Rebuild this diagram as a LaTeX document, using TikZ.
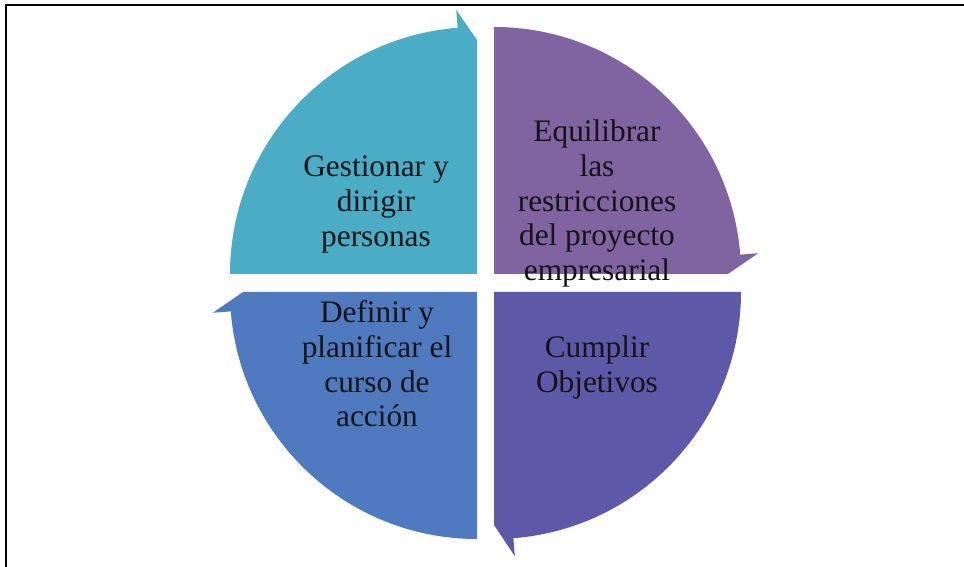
\documentclass[tikz,border=0pt]{standalone}
\usepackage{fontspec}
\setmainfont{Liberation Serif}
\usetikzlibrary{calc}
\definecolor{cteal}{HTML}{4BACC6}
\definecolor{cpurple}{HTML}{8064A2}
\definecolor{cdark}{HTML}{5E58A8}
\definecolor{cblue}{HTML}{4F7ABF}
\definecolor{ctext}{HTML}{141414}
\tikzset{
  seg/.style={draw=none},
  lbl/.style={inner sep=0pt, anchor=base, text=ctext, font=\fontsize{23.5}{26}\selectfont},
  frame/.style={draw=black, line width=1.9pt}
}
\newcommand{\lines}[1]{\begin{tabular}[t]{@{}c@{}}#1\end{tabular}}
\begin{document}
\begin{tikzpicture}[x=0.75pt,y=0.75pt]
\useasboundingbox (0,0) rectangle (964,567);
\coordinate (c1) at (477,293);
\coordinate (c2) at (494,293);
\coordinate (c3) at (494,275);
\coordinate (c4) at (477,275);
% frame
\coordinate (f0) at (6,0);
\coordinate (f1) at (6,562);
\coordinate (f2) at (964,562);
\draw[frame] (f0) -- (f1) -- (f2);
% segments
\fill[cteal] (c1) -- ($(c1)+(180:247)$) arc[start angle=180, end angle=94.5, radius=247]
  -- ($(c1)+(94.5:265)$) -- ($(c1)+(90:234)$) -- cycle;
\fill[cpurple] (c2) -- ($(c2)+(90:247)$) arc[start angle=90, end angle=4.5, radius=247]
  -- ($(c2)+(4.5:265)$) -- ($(c2)+(0:234)$) -- cycle;
\fill[cdark] (c3) -- ($(c3)+(0:247)$) arc[start angle=0, end angle=-85.5, radius=247]
  -- ($(c3)+(-85.5:265)$) -- ($(c3)+(-90:233)$) -- cycle;
\fill[cblue] (c4) -- ($(c4)+(-90:247)$) arc[start angle=-90, end angle=-175.5, radius=247]
  -- ($(c4)+(-175.5:265)$) -- ($(c4)+(-180:234)$) -- cycle;
% labels
\node[lbl] (t1) at (376,390) {\lines{Gestionar y\\dirigir\\personas}};
\node[lbl] (t2) at (597,425) {\lines{Equilibrar\\las\\restricciones\\del proyecto\\empresarial}};
\node[lbl] (t3) at (597,209) {\lines{Cumplir\\Objetivos}};
\node[lbl] (t4) at (377,244) {\lines{Definir y\\planificar el\\curso de\\acción}};
\end{tikzpicture}
\end{document}
